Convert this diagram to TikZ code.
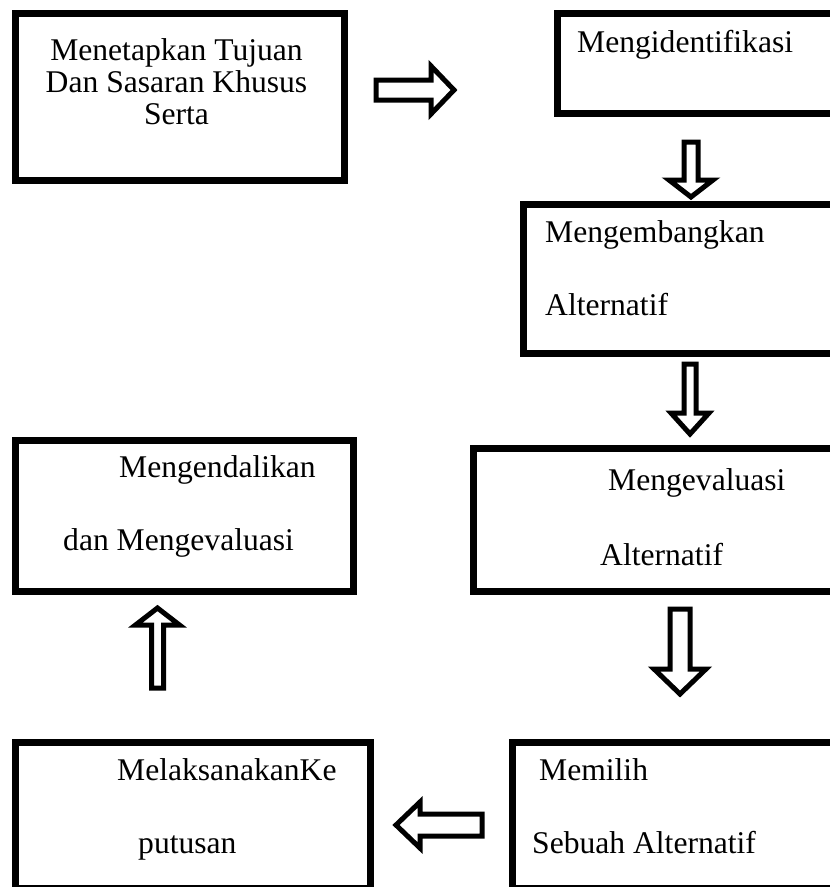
\documentclass[tikz,border=0pt]{standalone}
\usepackage{fontspec}
\setmainfont{Liberation Serif}
\usetikzlibrary{positioning}
\tikzset{
	box/.style={draw, rectangle, line width=7pt, anchor=north west, inner sep=0pt},
	lbl/.style={inner sep=0pt, font=\fontsize{31.6}{36}\selectfont},
	blk/.style={draw, line width=5pt, fill=white, line join=miter, miter limit=10},
}
\newcommand{\blockarr}[7]{\draw[blk, shift={(#1,#2)}, rotate=#3] (0,-#6) -- ({#4-#5},-#6) -- ({#4-#5},-#7) -- (#4,0) -- ({#4-#5},#7) -- ({#4-#5},#6) -- (0,#6) -- cycle;}

\begin{document}
\begin{tikzpicture}[x=1pt, y=-1pt]
			\useasboundingbox (0,0) rectangle (830,887);
			\clip (0,0) rectangle (830,887);
			\node[box, minimum width=329.5pt, minimum height=167pt] (goal) at (11.5,9.5) {};
			\node[box, minimum width=290pt, minimum height=100.5pt] (ident) at (554,9.5) {};
			\node[box, minimum width=320pt, minimum height=149.5pt] (develop) at (520,200.5) {};
			\node[box, minimum width=370pt, minimum height=143pt] (evaluate) at (470,445) {};
			\node[box, minimum width=338.5pt, minimum height=151pt] (control) at (11.5,437) {};
			\node[box, minimum width=355.5pt, minimum height=146.5pt] (execute) at (11.5,738.5) {};
			\node[box, minimum width=330pt, minimum height=146.5pt] (choose) at (508.5,738.5) {};
			
			\node[lbl, anchor=base] (goala) at (176.5,60) {Menetapkan Tujuan};
			\node[lbl, anchor=base] (goalb) at (176.5,92) {Dan Sasaran Khusus};
			\node[lbl, anchor=base] (goalc) at (176.5,124) {Serta};
			\node[lbl, anchor=base west] (identa) at (577,52) {Mengidentifikasi};
			\node[lbl, anchor=base west] (developa) at (545,242) {Mengembangkan};
			\node[lbl, anchor=base west] (developb) at (545,315) {Alternatif};
			\node[lbl, anchor=base west] (evaluatea) at (608,490) {Mengevaluasi};
			\node[lbl, anchor=base west] (evaluateb) at (600,565) {Alternatif};
			\node[lbl, anchor=base west] (controla) at (119,477) {Mengendalikan};
			\node[lbl, anchor=base west] (controlb) at (63,550) {dan Mengevaluasi};
			\node[lbl, anchor=base west] (executea) at (117,780) {MelaksanakanKe};
			\node[lbl, anchor=base west] (executeb) at (138,853) {putusan};
			\node[lbl, anchor=base west] (choosea) at (539,780) {Memilih};
			\node[lbl, anchor=base west] (chooseb) at (532,853) {Sebuah Alternatif};
			
			\blockarr{376}{90}{0}{78}{23}{10}{24}
			\blockarr{691}{142}{-90}{55}{17}{7}{22}
			\blockarr{690}{364}{-90}{70}{21}{6}{19}
			\blockarr{680}{609}{-90}{85}{25}{10}{26}
			\blockarr{482}{825}{180}{86}{24}{11}{23}
			\blockarr{157.5}{688}{90}{80}{17}{6}{22}
		\end{tikzpicture}
\end{document}
